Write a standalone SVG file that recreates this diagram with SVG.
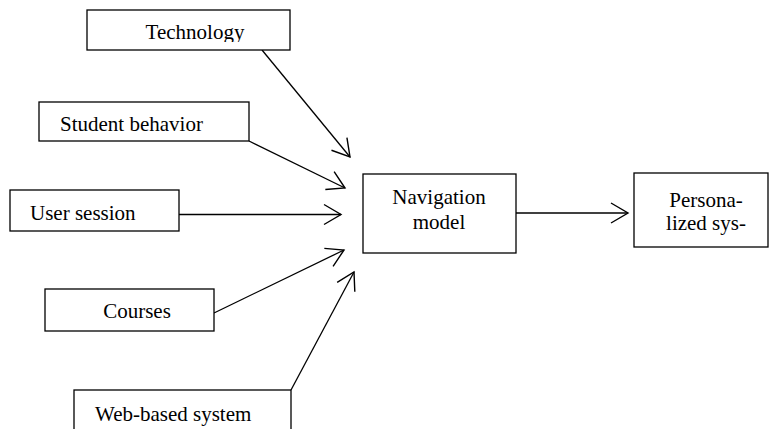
<svg xmlns="http://www.w3.org/2000/svg" width="769" height="429" viewBox="0 0 769 429">
<style>
.box{fill:#fff;stroke:#000;stroke-width:1.3}
text{font-family:'Liberation Serif','DejaVu Serif',serif;font-size:21px;fill:#000}
.c{stroke:#000;stroke-width:1.3;fill:none;marker-end:url(#ah)}
</style>
<defs>
<marker id="ah" markerUnits="userSpaceOnUse" viewBox="-20 -12 22 24" refX="0" refY="0" markerWidth="22" markerHeight="24" orient="auto">
<path d="M-17,-10 L0,0 L-17,10" fill="none" stroke="#000" stroke-width="1.4"/>
</marker>
<clipPath id="techclip"><rect x="87" y="10" width="203" height="32"/></clipPath>
</defs>
<rect width="769" height="429" fill="#fff"/>
<g id="connectors">
<line class="c" x1="262" y1="50" x2="350" y2="157"/>
<line class="c" x1="249" y1="141" x2="345" y2="188"/>
<line class="c" x1="179" y1="214.5" x2="341" y2="214.5"/>
<line class="c" x1="214" y1="313" x2="344" y2="250"/>
<line class="c" x1="291" y1="390" x2="354" y2="272"/>
<line class="c" x1="516" y1="213" x2="628" y2="213"/>
</g>
<g font-family="Liberation Serif, serif" font-size="21">
<g id="technology">
<rect class="box" x="87" y="10" width="203" height="40"/>
<text x="195" y="38.5" text-anchor="middle" clip-path="url(#techclip)">Technology</text>
</g>
<g id="student-behavior">
<rect class="box" x="39" y="102" width="210" height="39"/>
<text x="60" y="131">Student behavior</text>
</g>
<g id="user-session">
<rect class="box" x="10" y="190" width="169" height="41"/>
<text x="30" y="220">User session</text>
</g>
<g id="courses">
<rect class="box" x="45" y="289" width="169" height="42"/>
<text x="137" y="318" text-anchor="middle">Courses</text>
</g>
<g id="web-based-system">
<rect class="box" x="74" y="390" width="217" height="50"/>
<text x="95" y="421">Web-based system</text>
</g>
<g id="navigation-model">
<rect class="box" x="363" y="174" width="153" height="79"/>
<text x="439" y="204" text-anchor="middle">Navigation</text>
<text x="439" y="229" text-anchor="middle">model</text>
</g>
<g id="personalized-system">
<rect class="box" x="634" y="173" width="134" height="74"/>
<text x="706" y="207" text-anchor="middle">Persona-</text>
<text x="706" y="230" text-anchor="middle">lized sys-</text>
</g>
</g>
</svg>
